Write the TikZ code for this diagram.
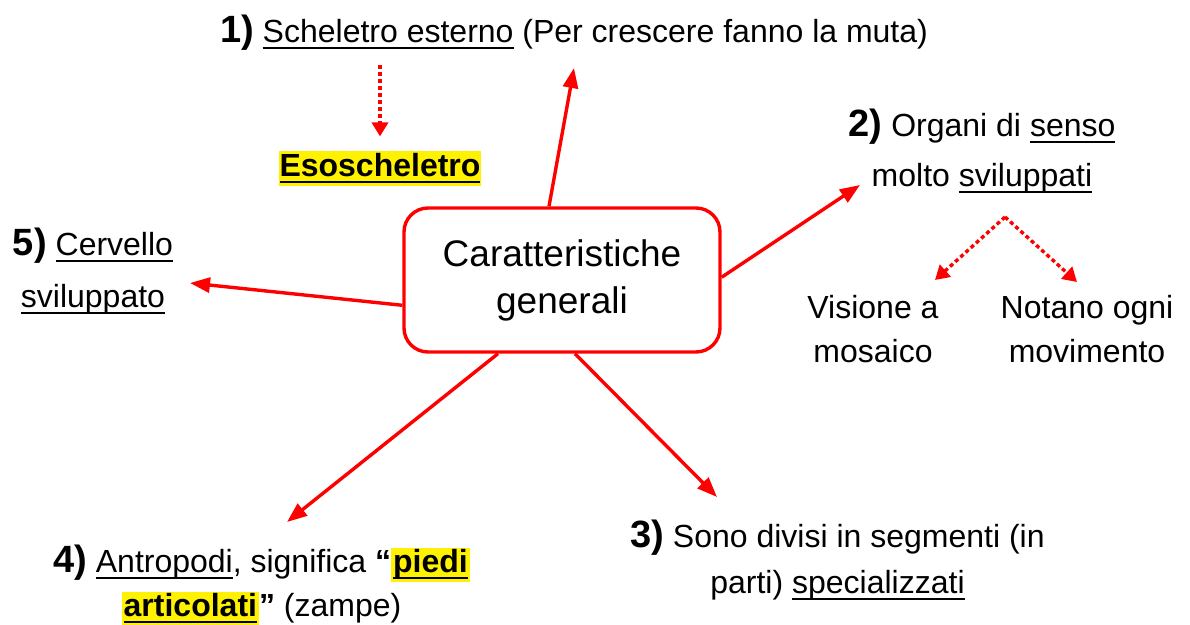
\documentclass[tikz,border=0pt]{standalone}
\usepackage{fontspec}
\setmainfont{Liberation Sans}
\usetikzlibrary{arrows.meta}

\newlength{\ulwd}
\newcommand{\ulin}[1]{\settowidth{\ulwd}{#1}\rlap{\rule[-0.19em]{\ulwd}{0.07em}}#1}
\newcommand{\numlab}[1]{{\fontsize{19}{22}\selectfont\bfseries #1}}
\newcommand{\hlite}[1]{{\setlength{\fboxsep}{1pt}\colorbox{yellow}{\bfseries\ulin{#1}}}}

\begin{document}
\begin{tikzpicture}[x=0.5pt,y=-0.5pt,>={Triangle[length=10pt,width=7.5pt]}]
  \tikzstyle{every node}=[font=\fontsize{16}{22}\selectfont,align=center,inner sep=0pt]
  \tikzstyle{main}=[draw=red,line width=1.7pt,rounded corners=12pt,minimum width=158pt,
                    minimum height=72pt,font=\fontsize{18.5}{23.5}\selectfont]
  \tikzstyle{link}=[red,line width=1.7pt,->]
  \tikzstyle{hint}=[red,line width=1.7pt,dash pattern=on 2pt off 1.5pt,
                    -{Triangle[length=7pt,width=8pt]}]

  \useasboundingbox (0,0) rectangle (1190,625);

  \node[main]          (C)   at (562,280)   {Caratteristiche\\generali};
  \node[anchor=base]   (t1)  at (574,43)    {\numlab{1)} \ulin{Scheletro esterno} (Per crescere fanno la muta)};
  \node[anchor=base,fill=yellow,inner xsep=0.5pt,inner ysep=1.5pt]
                       (eso) at (380,177)   {\bfseries\ulin{Esoscheletro}};
  \node[anchor=base]   (n2)  at (982,187)   {\numlab{2)} Organi di \ulin{senso}\\[3pt]molto \ulin{sviluppati}};
  \node[anchor=base]   (vis) at (873,363)   {Visione a\\mosaico};
  \node[anchor=base]   (not) at (1087,363)  {Notano ogni\\movimento};
  \node[anchor=base]   (n5)  at (93,308)    {\numlab{5)} \ulin{Cervello}\\[4pt]\ulin{sviluppato}};
  \node[anchor=base]   (n4)  at (261.5,617) {\numlab{4)} \ulin{Antropodi}, significa {\bfseries “}\hlite{piedi}\\\hlite{articolati}{\bfseries ”} (zampe)};
  \node[anchor=base]   (n3)  at (837.5,594) {\numlab{3)} Sono divisi in segmenti (in\\[1pt]parti) \ulin{specializzati}};

  \coordinate (a1) at (574,68);
  \coordinate (a2) at (860,185);
  \coordinate (a3) at (717,497);
  \coordinate (a4) at (287,522);
  \coordinate (a5) at (190,283);
  \coordinate (d1) at (380,65);
  \coordinate (d2) at (1005,217);
  \coordinate (v1) at (935,280);
  \coordinate (v2) at (1077,282);

  \path (C.100) edge [link] (a1)
        (C.1)   edge [link] (a2)
        (C.280) edge [link] (a3)
        (C.229) edge [link] (a4)
        (C.189) edge [link] (a5);
  \path (d1) edge [hint, shorten >=7pt] (eso.north)
        (d2) edge [hint] (v1)
             edge [hint] (v2);
\end{tikzpicture}
\end{document}
